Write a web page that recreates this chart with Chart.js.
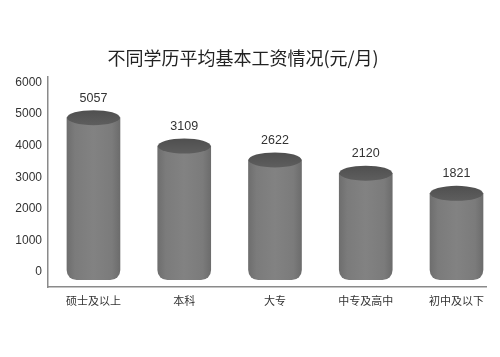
<!DOCTYPE html>
<html>
<head>
<meta charset="utf-8">
<script src="https://cdn.jsdelivr.net/npm/chart.js@4/dist/chart.umd.min.js"></script>
<style>
html,body{margin:0;padding:0;background:#fff;}
canvas{display:block;background:#fff;}
</style>
</head>
<body>
<canvas id="c" width="500" height="357"></canvas>
<script>
// ---- data ----
const categories = ['硕士及以上', '本科', '大专', '中专及高中', '初中及以下'];
const wageLabels = ['5057', '3109', '2622', '2120', '1821'];   // printed numbers
const barTops = [4890, 3990, 3550, 3130, 2490];                 // drawn cylinder tops, read against the axis
const barBase = -250;                                            // cylinders start slightly below 0
const yTicks = [0, 1000, 2000, 3000, 4000, 5000, 6000];
const titleText = '不同学历平均基本工资情况(元/月)';

const BAR_W = 53;
const ELL_RY = 7.5;

const bodyFill = (ctx) => {
  const chart = ctx.chart;
  const xs = chart.scales.x;
  if (!xs || ctx.dataIndex === undefined) return '#7b7b7b';
  const cx = xs.getPixelForValue(ctx.dataIndex);
  if (!isFinite(cx)) return '#7b7b7b';
  const g = chart.ctx.createLinearGradient(cx - BAR_W / 2, 0, cx + BAR_W / 2, 0);
  g.addColorStop(0, '#6e6e6e');
  g.addColorStop(0.15, '#7b7b7b');
  g.addColorStop(0.5, '#828282');
  g.addColorStop(0.85, '#7b7b7b');
  g.addColorStop(1, '#6c6c6c');
  return g;
};

const cylinderPlugin = {
  id: 'cylinder',
  afterDatasetsDraw(chart) {
    const ctx = chart.ctx;
    const meta = chart.getDatasetMeta(0);
    meta.data.forEach((el, i) => {
      const x = el.x, y = el.y, w = el.width;
      if (!isFinite(x) || !isFinite(y)) return;
      ctx.save();
      const g = ctx.createLinearGradient(0, y - ELL_RY, 0, y + ELL_RY);
      g.addColorStop(0, '#4f4f4f');
      g.addColorStop(1, '#5e5e5e');
      ctx.beginPath();
      ctx.ellipse(x, y, w / 2, ELL_RY, 0, 0, Math.PI * 2);
      ctx.fillStyle = g;
      ctx.fill();
      ctx.fillStyle = '#333';
      ctx.font = '12.5px "Liberation Sans", Arial, sans-serif';
      ctx.textAlign = 'center';
      ctx.textBaseline = 'middle';
      ctx.fillText(wageLabels[i], x, y - ELL_RY - 12);
      ctx.restore();
    });
  }
};

new Chart(document.getElementById('c'), {
  type: 'bar',
  data: {
    datasets: [{
      data: categories.map((c, i) => ({ x: i, y: barTops[i] })),
      base: barBase,
      barThickness: BAR_W,
      backgroundColor: bodyFill,
      borderWidth: 0,
      borderSkipped: false,
      borderRadius: { topLeft: 0, topRight: 0, bottomLeft: 10, bottomRight: 10 }
    }]
  },
  options: {
    responsive: false,
    animation: false,
    devicePixelRatio: 1,
    layout: { padding: { left: 0, right: 14, top: 0, bottom: 0 } },
    plugins: {
      legend: { display: false },
      tooltip: { enabled: false },
      title: {
        display: true,
        text: titleText,
        color: '#222',
        font: { family: '"Noto Sans CJK SC", sans-serif', size: 18, weight: 'normal' },
        padding: { top: 47, bottom: 8 }
      }
    },
    scales: {
      x: {
        type: 'linear',
        offset: false,
        min: -0.501,
        max: 4.325,
        grid: { display: false, drawTicks: false },
        border: { display: true, color: '#8a8a8a', width: 1.5 },
        ticks: {
          stepSize: 1,
          autoSkip: false,
          maxRotation: 0,
          padding: 7,
          color: '#333',
          font: { family: '"Noto Sans CJK SC", sans-serif', size: 11 },
          callback: (v) => categories[v]
        },
        afterBuildTicks: (s) => { s.ticks = categories.map((c, i) => ({ value: i })); },
        afterFit: (s) => { s.height = 70; }
      },
      y: {
        type: 'linear',
        min: -479,
        max: 6191,
        grid: { display: false, drawTicks: false },
        border: { display: true, color: '#8a8a8a', width: 1.5 },
        ticks: {
          padding: 6,
          color: '#333',
          font: { family: '"Liberation Sans", Arial, sans-serif', size: 12 },
          callback: (v) => String(v)
        },
        afterBuildTicks: (s) => { s.ticks = yTicks.map(v => ({ value: v })); },
        afterFit: (s) => { s.width = 48; }
      }
    }
  },
  plugins: [cylinderPlugin]
});
</script>
</body>
</html>
